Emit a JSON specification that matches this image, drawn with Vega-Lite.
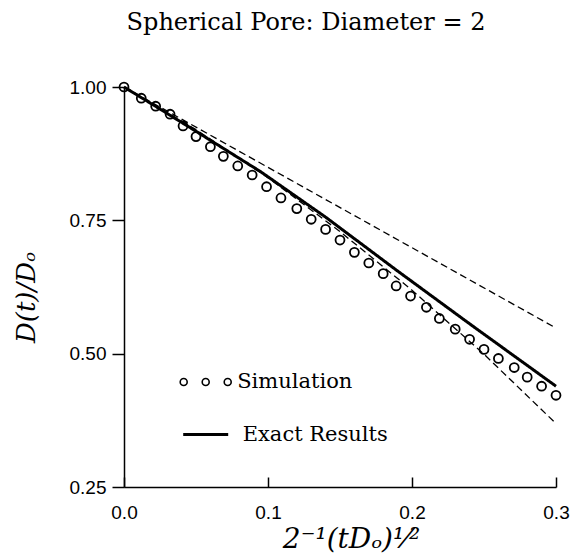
{
  "$schema": "https://vega.github.io/schema/vega-lite/v6.json",
  "autosize": "none",
  "width": 432,
  "height": 400,
  "padding": {"left": 124, "top": 87, "right": 21, "bottom": 69},
  "background": "white",
  "title": {
    "text": "Spherical Pore: Diameter = 2",
    "font": "DejaVu Serif",
    "fontSize": 24,
    "fontWeight": "normal",
    "color": "black",
    "anchor": "middle",
    "frame": "group",
    "dx": -34,
    "baseline": "alphabetic",
    "offset": 24
  },
  "config": {
    "view": {"stroke": null},
    "axis": {
      "domainColor": "black",
      "domainWidth": 1.5,
      "tickColor": "black",
      "tickWidth": 1.5,
      "labelFont": "Liberation Sans",
      "labelFontSize": 19,
      "labelColor": "black",
      "labelFlush": false,
      "grid": false,
      "titleColor": "black",
      "titleFont": "DejaVu Serif",
      "titleFontStyle": "italic",
      "titleFontWeight": "normal",
      "titleFontSize": 26
    }
  },
  "datasets": {
    "sim": [
      {"x": 0.0, "y": 1.0},
      {"x": 0.012, "y": 0.979},
      {"x": 0.022, "y": 0.964},
      {"x": 0.032, "y": 0.949},
      {"x": 0.041, "y": 0.927},
      {"x": 0.05, "y": 0.907},
      {"x": 0.06, "y": 0.888},
      {"x": 0.069, "y": 0.87},
      {"x": 0.079, "y": 0.852},
      {"x": 0.089, "y": 0.835},
      {"x": 0.099, "y": 0.813},
      {"x": 0.109, "y": 0.792},
      {"x": 0.12, "y": 0.772},
      {"x": 0.13, "y": 0.752},
      {"x": 0.14, "y": 0.733},
      {"x": 0.15, "y": 0.713},
      {"x": 0.16, "y": 0.69},
      {"x": 0.17, "y": 0.67},
      {"x": 0.18, "y": 0.65},
      {"x": 0.189, "y": 0.627},
      {"x": 0.199, "y": 0.608},
      {"x": 0.21, "y": 0.587},
      {"x": 0.219, "y": 0.566},
      {"x": 0.23, "y": 0.546},
      {"x": 0.24, "y": 0.527},
      {"x": 0.25, "y": 0.508},
      {"x": 0.26, "y": 0.491},
      {"x": 0.271, "y": 0.474},
      {"x": 0.28, "y": 0.456},
      {"x": 0.29, "y": 0.439},
      {"x": 0.3, "y": 0.422}
    ],
    "exact": [
      {"x": 0.0, "y": 1.0},
      {"x": 0.02, "y": 0.967},
      {"x": 0.05, "y": 0.917},
      {"x": 0.095, "y": 0.841},
      {"x": 0.14, "y": 0.756},
      {"x": 0.19, "y": 0.655},
      {"x": 0.24, "y": 0.556},
      {"x": 0.3, "y": 0.439}
    ],
    "upper": [
      {"x": 0.0, "y": 1.0},
      {"x": 0.3, "y": 0.548}
    ],
    "lower": [
      {"x": 0.0, "y": 1.0},
      {"x": 0.05, "y": 0.92},
      {"x": 0.1, "y": 0.83},
      {"x": 0.15, "y": 0.729},
      {"x": 0.2, "y": 0.619},
      {"x": 0.25, "y": 0.499},
      {"x": 0.3, "y": 0.369}
    ]
  },
  "encoding": {
    "x": {
      "field": "x",
      "type": "quantitative",
      "scale": {"domain": [0, 0.3], "nice": false, "zero": false},
      "axis": {
        "values": [0, 0.1, 0.2, 0.3],
        "format": ".1f",
        "tickSize": -10,
        "labelPadding": 26,
        "title": "2⁻¹(tDₒ)¹⁄²",
        "titleFontSize": 28,
        "titleX": 227,
        "titleY": 60,
        "titleBaseline": "alphabetic"
      }
    },
    "y": {
      "field": "y",
      "type": "quantitative",
      "scale": {"domain": [0.25, 1.0], "nice": false, "zero": false},
      "axis": {
        "values": [0.25, 0.5, 0.75, 1.0],
        "format": ".2f",
        "tickSize": 12,
        "labelPadding": 6,
        "title": "D(t)/Dₒ",
        "titleX": -90,
        "titleY": 210,
        "titleAngle": 270,
        "titleAlign": "center",
        "titleBaseline": "alphabetic"
      }
    }
  },
  "layer": [
    {
      "data": {"name": "upper"},
      "mark": {"type": "line", "color": "black", "strokeWidth": 1.3, "strokeDash": [7, 4]}
    },
    {
      "data": {"name": "lower"},
      "mark": {"type": "line", "color": "black", "strokeWidth": 1.3, "strokeDash": [7, 4]}
    },
    {
      "data": {"name": "exact"},
      "mark": {"type": "line", "color": "black", "strokeWidth": 3},
      "encoding": {
        "strokeDash": {
          "datum": "Exact Results",
          "scale": {"range": [[1, 0]]},
          "legend": {
            "orient": "none",
            "legendX": 57.7,
            "legendY": 323.5,
            "title": null,
            "padding": 0,
            "symbolType": "stroke",
            "symbolSize": 2025,
            "symbolStrokeWidth": 3,
            "symbolStrokeColor": "black",
            "labelFont": "DejaVu Serif",
            "labelFontSize": 21,
            "labelColor": "black",
            "labelOffset": 13
          }
        }
      }
    },
    {
      "data": {"name": "sim"},
      "mark": {"type": "point", "shape": "circle", "filled": false, "size": 80, "strokeWidth": 1.8, "opacity": 1},
      "encoding": {
        "color": {
          "datum": "Simulation",
          "scale": {"range": ["black"]},
          "legend": {
            "orient": "none",
            "legendX": 55.2,
            "legendY": 268.5,
            "title": null,
            "padding": 0,
            "symbolType": "M-1,0a0.137,0.137 0 1,0 0.274,0a0.137,0.137 0 1,0 -0.274,0M-0.137,0a0.137,0.137 0 1,0 0.274,0a0.137,0.137 0 1,0 -0.274,0M0.726,0a0.137,0.137 0 1,0 0.274,0a0.137,0.137 0 1,0 -0.274,0",
            "symbolSize": 2601,
            "symbolStrokeWidth": 1.6,
            "symbolStrokeColor": "black",
            "symbolFillColor": "transparent",
            "symbolOpacity": 1,
            "labelFont": "DejaVu Serif",
            "labelFontSize": 21,
            "labelColor": "black",
            "labelOffset": 5
          }
        }
      }
    }
  ]
}
